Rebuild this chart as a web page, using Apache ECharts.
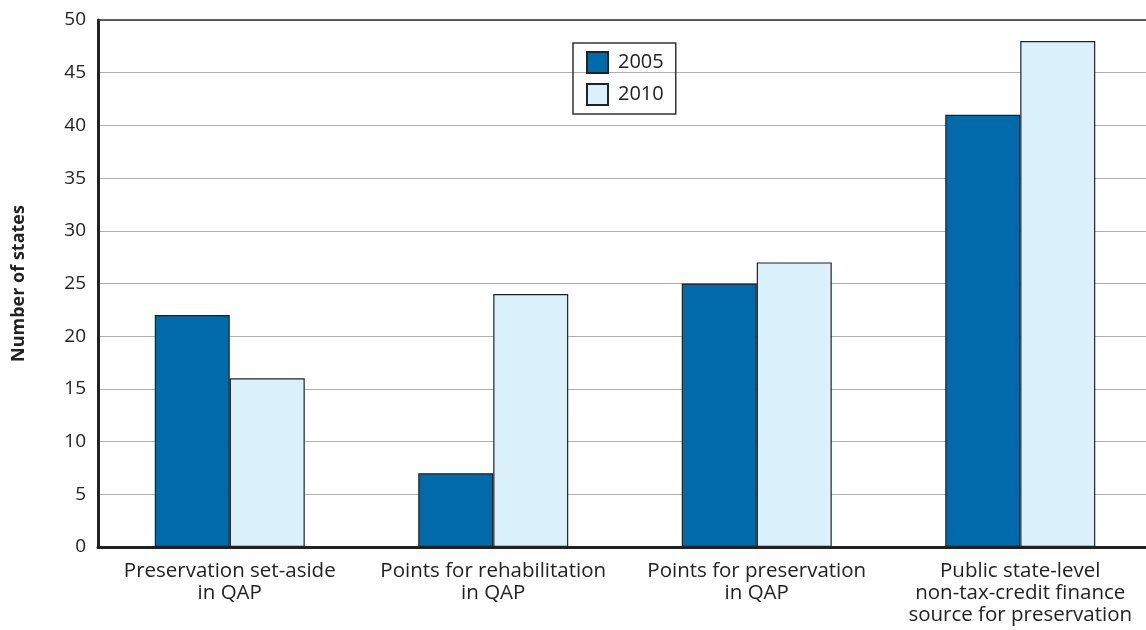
<!DOCTYPE html>
<html><head><meta charset="utf-8">
<script src="https://cdn.jsdelivr.net/npm/echarts@6/dist/echarts.min.js"></script>
<style>html,body{margin:0;padding:0;background:#fff;overflow:hidden;width:1146px;height:630px}#c{width:1152px;height:630px}</style>
</head><body><div id="c"></div>
<script>
const categories = ['Preservation set-aside\nin QAP', 'Points for rehabilitation\nin QAP', 'Points for preservation\nin QAP', 'Public state-level\nnon-tax-credit finance\nsource for preservation'];
const values2005 = [22, 7, 25, 41];
const values2010 = [16, 24, 27, 48];
const seriesNames = ['2005', '2010'];
const FONT = '"Open Sans", "Noto Sans", sans-serif';
const chart = echarts.init(document.getElementById('c'));
chart.setOption({
  animation: false,
  grid: { left: 98, right: 0, top: 20, bottom: 83, containLabel: false },
  legend: {
    orient: 'vertical', left: 573, top: 43,
    data: seriesNames, icon: 'rect',
    borderColor: '#333', borderWidth: 1.5,
    padding: [8, 12, 8, 13], itemWidth: 21, itemHeight: 21, itemGap: 9,
    textStyle: { fontFamily: FONT, fontSize: 20, color: '#222', padding: [0, 0, 0, 5] }
  },
  xAxis: [{
    type: 'category', data: categories,
    axisLine: { lineStyle: { color: '#222', width: 3 } },
    axisTick: { show: false },
    axisLabel: { fontFamily: FONT, fontSize: 20.5, color: '#222', lineHeight: 22, margin: 13, interval: 0 }
  }, {
    type: 'category', position: 'top', data: categories,
    axisLine: { lineStyle: { color: '#333', width: 1.5 } },
    axisTick: { show: false }, axisLabel: { show: false }
  }],
  yAxis: {
    type: 'value', min: 0, max: 50, interval: 5,
    name: 'Number of states', nameLocation: 'middle', nameGap: 70, nameRotate: 90,
    nameTextStyle: { fontFamily: FONT, fontSize: 18, fontWeight: 'bold', color: '#222' },
    axisLine: { show: true, lineStyle: { color: '#222', width: 3 } },
    axisTick: { show: false },
    axisLabel: { fontFamily: FONT, fontSize: 19, color: '#222', margin: 12 },
    splitLine: { lineStyle: { color: '#b0b0b0', width: 1.2 } }
  },
  series: [{
    name: seriesNames[0], type: 'bar', data: values2005, barWidth: 75, barGap: '0%',
    itemStyle: { color: '#006AAB', borderColor: '#222', borderWidth: 1.2 }
  }, {
    name: seriesNames[1], type: 'bar', data: values2010, barWidth: 75, barGap: '0%',
    itemStyle: { color: '#DAF0FB', borderColor: '#222', borderWidth: 1.2 }
  }]
});
</script></body></html>
